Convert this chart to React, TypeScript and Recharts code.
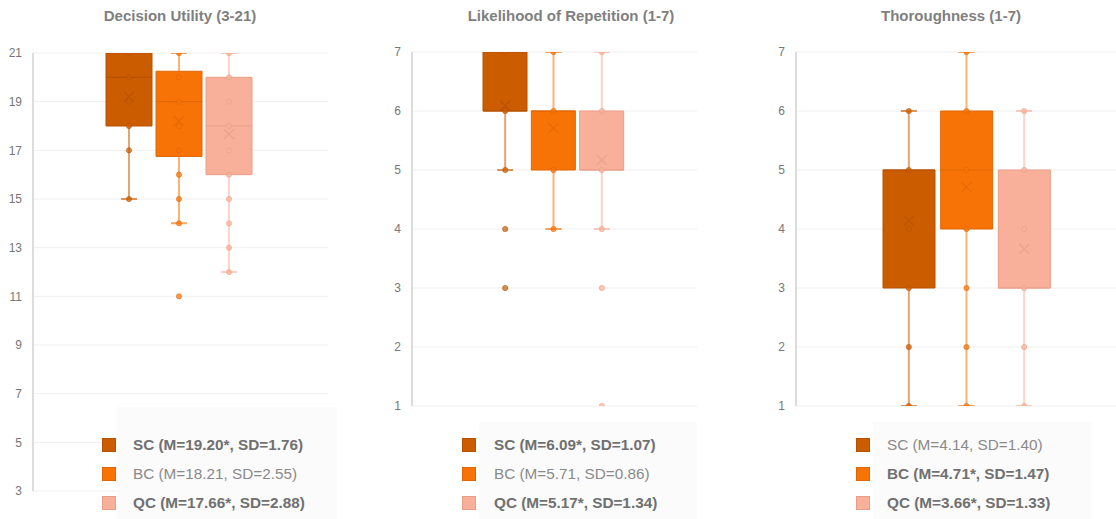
import {
  ComposedChart,
  Bar,
  Scatter,
  XAxis,
  YAxis,
  CartesianGrid,
  Cell
} from "recharts";

const GROUPS = ["SC", "BC", "QC"];

const FILL: Record<string, string> = { SC: "#cc5c00", BC: "#f87306", QC: "#f9b09a" };
const EDGE: Record<string, string> = { SC: "#b55100", BC: "#e06604", QC: "#e99d86" };

// Decision Utility (3-21)
const DU_Q1 = [18, 16.75, 16];
const DU_Q3 = [21, 20.25, 20];
const DU_MED = [20, 19, 18];
const DU_MEAN = [19.2, 18.21, 17.66];
const DU_MIN = [15, 14, 12];
const DU_MAX = [21, 21, 21];
const DU_POINTS = [
  [21, 20, 19, 18, 17, 15],
  [21, 20, 19, 18, 17, 16, 15, 14, 11],
  [21, 20, 19, 18, 17, 16, 15, 14, 13, 12]
];
const DU_TICKS = [3, 5, 7, 9, 11, 13, 15, 17, 19, 21];
const DU_LEGEND = ["SC (M=19.20*, SD=1.76)", "BC (M=18.21, SD=2.55)", "QC (M=17.66*, SD=2.88)"];
const DU_BOLD = [true, false, true];

// Likelihood of Repetition (1-7)
const LR_Q1 = [6, 5, 5];
const LR_Q3 = [7, 6, 6];
const LR_MED = [6, 6, 5];
const LR_MEAN = [6.09, 5.71, 5.17];
const LR_MIN = [5, 4, 4];
const LR_MAX = [7, 7, 7];
const LR_POINTS = [
  [7, 6, 5, 4, 3],
  [7, 6, 5, 4],
  [7, 6, 5, 4, 3, 1]
];
const LR_LEGEND = ["SC (M=6.09*, SD=1.07)", "BC (M=5.71, SD=0.86)", "QC (M=5.17*, SD=1.34)"];
const LR_BOLD = [true, false, true];

// Thoroughness (1-7)
const TH_Q1 = [3, 4, 3];
const TH_Q3 = [5, 6, 5];
const TH_MED = [5, 5, 3];
const TH_MEAN = [4.14, 4.71, 3.66];
const TH_MIN = [1, 1, 1];
const TH_MAX = [6, 7, 6];
const TH_POINTS = [
  [6, 5, 4, 3, 2, 1],
  [7, 6, 5, 4, 3, 2, 1],
  [6, 5, 4, 3, 2, 1]
];
const TH_LEGEND = ["SC (M=4.14, SD=1.40)", "BC (M=4.71*, SD=1.47)", "QC (M=3.66*, SD=1.33)"];
const TH_BOLD = [false, true, true];

const SEVEN_TICKS = [1, 2, 3, 4, 5, 6, 7];

const FONT = "'Liberation Sans', Arial, sans-serif";

function BoxPanel(props: any) {
  const { q1, q3, med, mean, min, max, points, domain, ticks, barSize } = props;
  const rows = GROUPS.map((g, i) => ({ group: g, box: [q1[i], q3[i]] }));
  const medians = GROUPS.map((g, i) => ({ group: g, y: med[i] }));
  const means = GROUPS.map((g, i) => ({ group: g, y: mean[i] }));
  const caps: any[] = [];
  GROUPS.forEach((g, i) => {
    if (min[i] < q1[i]) caps.push({ group: g, y: min[i] });
    if (max[i] > q3[i]) caps.push({ group: g, y: max[i] });
  });

  const medianShape = (p: any) => (
    <line x1={p.cx - barSize / 2} x2={p.cx + barSize / 2} y1={p.cy} y2={p.cy}
      stroke={EDGE[p.payload.group]} strokeWidth={1.2} />
  );
  const meanShape = (p: any) => (
    <path d={`M${p.cx - 5},${p.cy - 5}L${p.cx + 5},${p.cy + 5}M${p.cx - 5},${p.cy + 5}L${p.cx + 5},${p.cy - 5}`}
      stroke={EDGE[p.payload.group]} strokeOpacity={0.75} strokeWidth={1.3} fill="none" />
  );
  const capShape = (p: any) => (
    <line x1={p.cx - 8} x2={p.cx + 8} y1={p.cy} y2={p.cy}
      stroke={FILL[p.payload.group]} strokeOpacity={0.65} strokeWidth={2} />
  );
  const dotShape = (p: any) => (
    <circle cx={p.cx} cy={p.cy} r={2.6} fill={FILL[p.payload.group]} fillOpacity={0.7}
      stroke={EDGE[p.payload.group]} strokeOpacity={0.6} strokeWidth={1} />
  );
  const noShape = () => <g />;

  return (
    <ComposedChart width={props.width} height={519} data={rows}
      margin={{ top: props.top, bottom: props.bottom, left: 0, right: props.right }}>
      <CartesianGrid vertical={false} stroke="#efefef" />
      <XAxis dataKey="group" type="category" hide allowDuplicatedCategory={false}
        padding={{ left: props.padLeft, right: props.padRight }} />
      <YAxis dataKey="y" type="number" domain={domain} ticks={ticks} interval={0}
        width={props.axisWidth} tickLine={false} tickSize={0} tickMargin={11}
        axisLine={{ stroke: "#dcdcdc", strokeWidth: 2 }}
        tick={{ fontSize: 12, fill: "#777", fontFamily: FONT }} allowDataOverflow />
      {GROUPS.map((g, i) => min[i] < q1[i] ? (
        <Scatter key={"lw" + g} data={[{ group: g, y: min[i] }, { group: g, y: q1[i] }]}
          line={{ stroke: FILL[g], strokeOpacity: 0.55, strokeWidth: 2 }} shape={noShape}
          isAnimationActive={false} />
      ) : null)}
      {GROUPS.map((g, i) => max[i] > q3[i] ? (
        <Scatter key={"uw" + g} data={[{ group: g, y: q3[i] }, { group: g, y: max[i] }]}
          line={{ stroke: FILL[g], strokeOpacity: 0.55, strokeWidth: 2 }} shape={noShape}
          isAnimationActive={false} />
      ) : null)}
      <Bar dataKey="box" barSize={barSize} isAnimationActive={false}>
        {rows.map((r) => (
          <Cell key={r.group} fill={FILL[r.group]} stroke={EDGE[r.group]} strokeWidth={1} />
        ))}
      </Bar>
      <Scatter data={medians} shape={medianShape} isAnimationActive={false} />
      {GROUPS.map((g, i) => (
        <Scatter key={"pt" + g} data={points[i].map((v: number) => ({ group: g, y: v }))}
          shape={dotShape} isAnimationActive={false} />
      ))}
      <Scatter data={caps} shape={capShape} isAnimationActive={false} />
      <Scatter data={means} shape={meanShape} isAnimationActive={false} />
    </ComposedChart>
  );
}

function LegendBox(props: any) {
  const { labels, bold, bg, squareLeft, textLeft, rowsTop } = props;
  return (
    <>
      <div style={{ position: "absolute", left: bg[0], top: bg[1], width: bg[2], height: bg[3], background: "#fbfbfb" }} />
      {GROUPS.map((g, i) => (
        <div key={g}>
          <div style={{
            position: "absolute", left: squareLeft, top: rowsTop[i] - 7, width: 12, height: 12,
            background: FILL[g], border: `1px solid ${EDGE[g]}`
          }} />
          <div style={{
            position: "absolute", left: textLeft, top: rowsTop[i] - 11, height: 22, lineHeight: "22px",
            fontFamily: FONT, fontSize: 15.3, fontWeight: bold[i] ? 700 : 400,
            color: bold[i] ? "#707070" : "#8a8a8a", whiteSpace: "nowrap"
          }}>{labels[i]}</div>
        </div>
      ))}
    </>
  );
}

function Title({ text, cx }: { text: string; cx: number }) {
  return (
    <div style={{
      position: "absolute", left: cx - 150, width: 300, top: 7, height: 18, lineHeight: "18px",
      textAlign: "center", fontFamily: FONT, fontSize: 15, fontWeight: 700, color: "#7f7f7f"
    }}>{text}</div>
  );
}

export default function App() {
  return (
    <div style={{ position: "absolute", left: 0, top: 0, width: 1116, height: 519, overflow: "hidden", background: "#fff" }}>
      <div style={{ position: "absolute", left: 0, top: 0 }}>
        <BoxPanel width={340} top={53} bottom={28} right={12} axisWidth={33}
          padLeft={71} padRight={74} barSize={46} domain={[3, 21]} ticks={DU_TICKS}
          q1={DU_Q1} q3={DU_Q3} med={DU_MED} mean={DU_MEAN} min={DU_MIN} max={DU_MAX} points={DU_POINTS} />
      </div>
      <div style={{ position: "absolute", left: 372, top: 0 }}>
        <BoxPanel width={340} top={52} bottom={113} right={15} axisWidth={40}
          padLeft={69} padRight={71} barSize={44} domain={[1, 7]} ticks={SEVEN_TICKS}
          q1={LR_Q1} q3={LR_Q3} med={LR_MED} mean={LR_MEAN} min={LR_MIN} max={LR_MAX} points={LR_POINTS} />
      </div>
      <div style={{ position: "absolute", left: 744, top: 0 }}>
        <BoxPanel width={393} top={52} bottom={113} right={0} axisWidth={52}
          padLeft={84} padRight={84} barSize={52} domain={[1, 7]} ticks={SEVEN_TICKS}
          q1={TH_Q1} q3={TH_Q3} med={TH_MED} mean={TH_MEAN} min={TH_MIN} max={TH_MAX} points={TH_POINTS} />
      </div>
      <Title text="Decision Utility (3-21)" cx={180} />
      <Title text="Likelihood of Repetition (1-7)" cx={571} />
      <Title text="Thoroughness (1-7)" cx={951} />
      <LegendBox labels={DU_LEGEND} bold={DU_BOLD} bg={[117, 407, 220, 112]}
        squareLeft={102} textLeft={133} rowsTop={[445, 474, 503]} />
      <LegendBox labels={LR_LEGEND} bold={LR_BOLD} bg={[479, 422, 218, 97]}
        squareLeft={462} textLeft={494} rowsTop={[445, 474, 503]} />
      <LegendBox labels={TH_LEGEND} bold={TH_BOLD} bg={[873, 422, 218, 97]}
        squareLeft={856} textLeft={887} rowsTop={[445, 474, 503]} />
    </div>
  );
}
